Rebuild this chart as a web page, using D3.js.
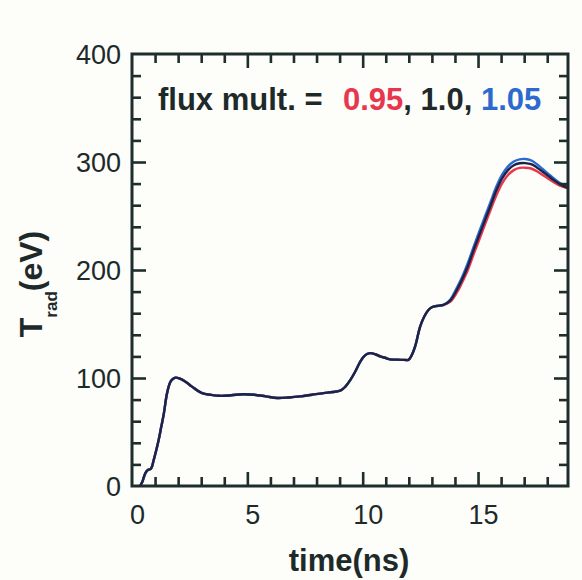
<!DOCTYPE html>
<html><head><meta charset="utf-8">
<script src="https://cdn.jsdelivr.net/npm/d3@7"></script>
<style>html,body{margin:0;padding:0;background:#fdfdf9;}svg{display:block;}</style>
</head><body>
<script>
const timeNs = [0.35,0.45,0.58,0.7,0.82,0.94,1.05,1.16,1.27,1.38,1.52,1.67,1.8,1.9,2.05,2.32,2.6,3.04,3.4,3.8,4.3,4.8,5.3,5.8,6.3,6.8,7.3,7.8,8.3,8.7,9.05,9.25,9.46,9.68,9.89,10.1,10.32,10.55,10.76,11.0,11.19,11.5,11.8,11.98,12.1,12.27,12.49,12.67,12.85,13.0,13.2,13.5,13.79,14.08,14.3,14.55,14.8,15.05,15.3,15.55,15.8,16.05,16.3,16.55,16.8,17.05,17.3,17.55,17.8,18.05,18.3,18.55,18.9];
const tradBlack = [0,4,12,15,16,24,33,43,55,67,86,96.6,99.5,100.3,99.6,96.6,92,86,84.5,83.5,84,85,84.5,83,81.5,82,83,84.5,86,87,88.5,92,98,106,115,121,123,122,120,118.5,117.3,117,116.8,116.8,120,129,147.5,157,163,165.5,166.7,167.6,171.6,181.5,190.7,203,218,232,246,260,274,285,292.5,297,298.8,299,298,295,291,287,283,279.5,276];
const tradRed   = [0,4,12,15,16,24,33,43,55,67,86,96.6,99.5,100.3,99.6,96.6,92,86,84.5,83.5,84,85,84.5,83,81.5,82,83,84.5,86,87,88.5,92,98,106,115,121,123,122,120,118.5,117.3,117,116.8,116.8,120,129,147.5,157,163,165.5,166.7,167.6,170.5,179,188,199.5,214,228,242,256,269.5,280.5,288,292.5,294.5,294.7,294,291.5,288,284.5,281,278,275.5];
const tradBlue  = [0,4,12,15,16,24,33,43,55,67,86,96.6,99.5,100.3,99.6,96.6,92,86,84.5,83.5,84,85,84.5,83,81.5,82,83,84.5,86,87,88.5,92,98,106,115,121,123,122,120,118.5,117.3,117,116.8,116.8,120,129,147.5,157,163,165.5,166.7,167.6,172.5,183.5,193,206,221,235.5,249.5,263.5,277.5,288.5,296,300.5,302.5,302.8,301.5,298,293.5,289,284.5,280.5,276.5];
const xMajorTicks = [0,5,10,15];
const yMajorTicks = [0,100,200,300,400];
const xMinorTicks = [1,2,3,4,6,7,8,9,11,12,13,14,16,17,18];
const yMinorTicks = [20,40,60,80,120,140,160,180,220,240,260,280,320,340,360,380];
const legendLabel = "flux mult. =";
const legendValues = ["0.95","1.0","1.05"];

const W = 582, H = 580;
const pLeft = 132, pRight = 568, pTop = 54, pBottom = 486;
const axisColor = "#1f2e2c";
const textColor = "#1e2a2a";
const colors = {red:"#e8364e", black:"#1b2447", blue:"#2c6ad0"};
const FONT = "Liberation Sans, Arial, sans-serif";

const svg = d3.select("body").append("svg").attr("width", W).attr("height", H);

const x = d3.scaleLinear().domain([0, 18.9]).range([pLeft, pRight]);
const y = d3.scaleLinear().domain([0, 400]).range([pBottom, pTop]);

// curves
const lineGen = d3.line().x((d,i)=>x(timeNs[i])).y(d=>y(d)).curve(d3.curveCatmullRom.alpha(0.5));
[[tradRed,colors.red],[tradBlue,colors.blue],[tradBlack,colors.black]].forEach(([s,c])=>{
  svg.append("path").datum(s).attr("d", lineGen).attr("fill","none")
    .attr("stroke", c).attr("stroke-width", 2.4).attr("stroke-linejoin","round");
});

// inward ticks via d3 axes (no labels)
function tickAxis(axisFn, scale, values, size, tx, ty){
  const a = svg.append("g").attr("transform", `translate(${tx},${ty})`)
    .call(axisFn(scale).tickValues(values).tickSizeInner(-size).tickSizeOuter(0).tickFormat(""));
  a.select(".domain").remove();
  a.selectAll(".tick line").attr("stroke", axisColor).attr("stroke-width", 2.6);
  return a;
}
tickAxis(d3.axisBottom, x, xMinorTicks, 9, 0, pBottom);
tickAxis(d3.axisBottom, x, [5,10,15], 14, 0, pBottom);
tickAxis(d3.axisTop, x, xMinorTicks, 9, 0, pTop);
tickAxis(d3.axisTop, x, [5,10,15], 14, 0, pTop);
tickAxis(d3.axisLeft, y, yMinorTicks, 9, pLeft, 0);
tickAxis(d3.axisLeft, y, [100,200,300], 14, pLeft, 0);
tickAxis(d3.axisRight, y, yMinorTicks, 9, pRight, 0);
tickAxis(d3.axisRight, y, [100,200,300], 14, pRight, 0);

// frame
svg.append("rect").attr("x",pLeft).attr("y",pTop).attr("width",pRight-pLeft).attr("height",pBottom-pTop)
  .attr("fill","none").attr("stroke",axisColor).attr("stroke-width",3);

// tick labels
const xa = svg.append("g").attr("transform",`translate(0,${pBottom})`)
  .call(d3.axisBottom(x).tickValues(xMajorTicks).tickSize(0).tickPadding(0));
xa.select(".domain").remove();
xa.selectAll("line").remove();
xa.selectAll("text").attr("font-family",FONT).attr("font-size",27)
  .attr("fill",textColor).attr("dx",5).attr("dy",0).attr("y",38);

const ya = svg.append("g").attr("transform",`translate(${pLeft},0)`)
  .call(d3.axisLeft(y).tickValues(yMajorTicks).tickSize(0).tickPadding(11));
ya.select(".domain").remove();
ya.selectAll("line").remove();
ya.selectAll("text").attr("font-family",FONT).attr("font-size",27)
  .attr("fill",textColor).attr("dy","0.36em");

// axis titles
svg.append("text").attr("x", 349).attr("y", 571).attr("text-anchor","middle")
  .attr("font-family",FONT).attr("font-weight","bold").attr("font-size",31)
  .attr("fill",textColor).text("time(ns)");

const yt = svg.append("text").attr("transform","translate(42,284) rotate(-90)").attr("text-anchor","middle")
  .attr("font-family",FONT).attr("font-weight","bold").attr("font-size",32)
  .attr("fill",textColor);
yt.append("tspan").text("T");
yt.append("tspan").attr("font-size",17).attr("dy",15).text("rad");
yt.append("tspan").attr("dy",-15).text("(eV)");

// legend
const lg = svg.append("text").attr("x",158).attr("y",110)
  .attr("font-family",FONT).attr("font-weight","bold").attr("font-size",31)
  .attr("fill",textColor);
lg.append("tspan").text(legendLabel);
lg.append("tspan").attr("x",343).attr("fill",colors.red).text(legendValues[0]);
lg.append("tspan").text(", ");
lg.append("tspan").text(legendValues[1]);
lg.append("tspan").text(", ");
lg.append("tspan").attr("fill",colors.blue).text(legendValues[2]);
</script>
</body></html>
